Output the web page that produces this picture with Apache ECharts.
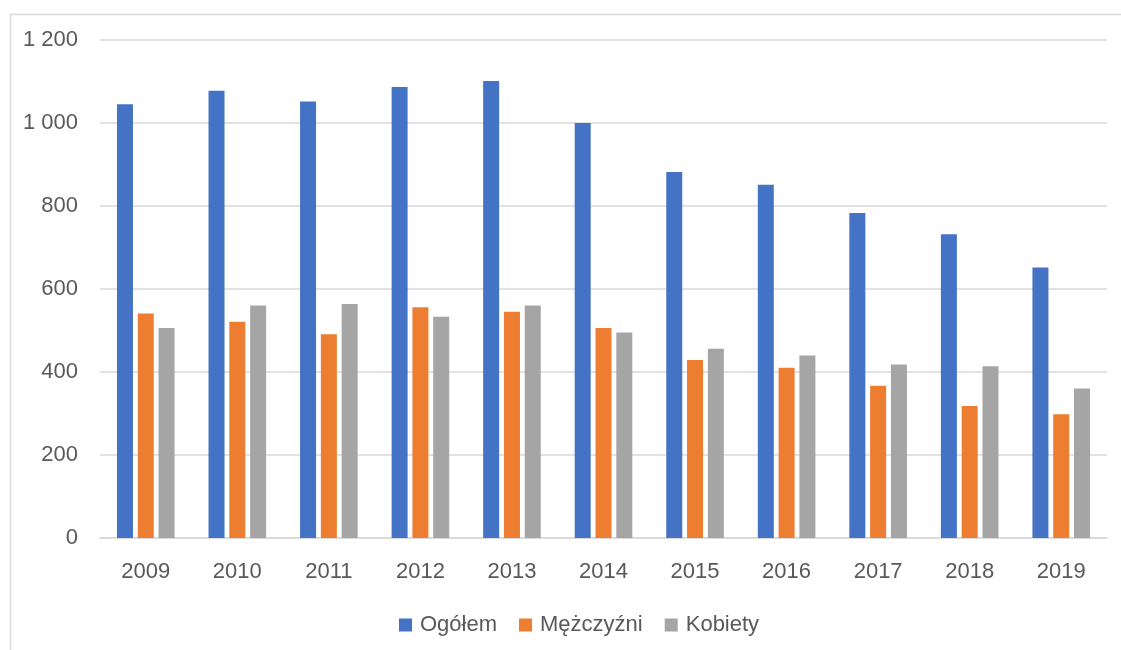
<!DOCTYPE html>
<html>
<head>
<meta charset="utf-8">
<script src="https://cdn.jsdelivr.net/npm/echarts@6/dist/echarts.min.js"></script>
<style>
html,body{margin:0;padding:0;background:#fff;}
#c{width:1121px;height:650px;}
</style>
</head>
<body>
<div id="c"></div>
<script>
const years = ['2009','2010','2011','2012','2013','2014','2015','2016','2017','2018','2019'];
const seriesNames = ['Ogółem','Mężczyźni','Kobiety'];
const ogolem    = [1045, 1078, 1052, 1087, 1101, 1000, 882, 851, 783, 732, 652];
const mezczyzni = [541, 521, 491, 556, 545, 506, 429, 410, 367, 318, 298];
const kobiety   = [506, 560, 564, 533, 560, 495, 456, 440, 418, 414, 360];
const colors = ['#4472C4','#ED7D31','#A5A5A5'];

const FONT = '"Liberation Sans", Arial, sans-serif';
const TXT = '#595959';

const chart = echarts.init(document.getElementById('c'), null, {renderer:'canvas'});
const data = [ogolem, mezczyzni, kobiety];
chart.setOption({
  animation:false,
  backgroundColor:'#ffffff',
  textStyle:{fontFamily:FONT},
  graphic:[{
    type:'rect', left:8, top:12, silent:true,
    shape:{x:0,y:0,width:1200,height:700},
    style:{fill:'none', stroke:'#d9d9d9', lineWidth:1.5}
  }],
  grid:{left:100, right:14, top:40, bottom:112, containLabel:false},
  legend:{
    top:614, left:399, padding:0,
    itemWidth:13, itemHeight:13, itemGap:22,
    icon:'rect',
    textStyle:{color:TXT, fontSize:22, fontFamily:FONT, padding:[0,0,0,3]},
    data:seriesNames
  },
  xAxis:{
    type:'category', data:years,
    axisLine:{show:true, lineStyle:{color:'#d9d9d9', width:1.5}},
    axisTick:{show:false},
    axisLabel:{color:TXT, fontSize:22, margin:23, fontFamily:FONT}
  },
  yAxis:{
    type:'value', min:0, max:1200, interval:200,
    axisLine:{show:false}, axisTick:{show:false},
    splitLine:{lineStyle:{color:'#d9d9d9', width:1.5}},
    axisLabel:{color:TXT, fontSize:22, margin:22, fontFamily:FONT,
      formatter:function(v){return String(v).replace(/\B(?=(\d{3})+(?!\d))/g,' ');}}
  },
  series: seriesNames.map((n,i)=>({
    name:n, type:'bar', data:data[i], barWidth:16, barGap:'30%',
    itemStyle:{color:colors[i]}
  }))
});
</script>
</body>
</html>
